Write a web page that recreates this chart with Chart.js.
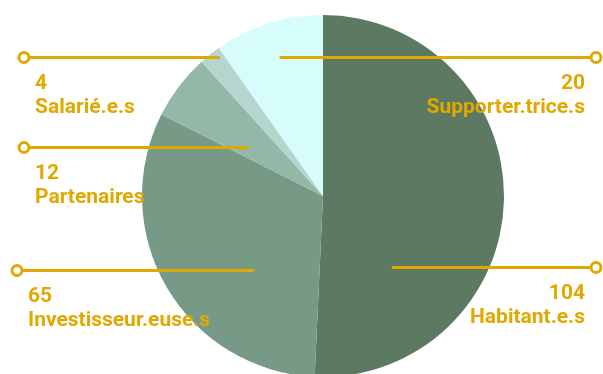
<!DOCTYPE html>
<html>
<head>
<meta charset="utf-8">
<script src="https://cdn.jsdelivr.net/npm/chart.js@4"></script>
<style>
  html, body { margin: 0; padding: 0; background: #fff; overflow: hidden; }
  #wrap { width: 603px; height: 380px; }
</style>
</head>
<body>
<div id="wrap"><canvas id="pieChart" width="603" height="380"></canvas></div>
<script>
// données
const categories = ['Habitant.e.s', 'Investisseur.euse.s', 'Partenaires', 'Salarié.e.s', 'Supporter.trice.s'];
const counts = [104, 65, 12, 4, 20];
const sliceColors = ['#5c7a61', '#779a86', '#93b8a7', '#b4d6ce', '#d6fcfc'];

// placement des étiquettes (relatif au centre et au rayon)
const labelLayout = [
  { side: 'right', dy: 71,   inner: 0.38 },  // Habitant
  { side: 'left',  dy: 74,   inner: -0.38 }, // Investisseur
  { side: 'left',  dy: -49,  inner: -0.41 }, // Partenaires
  { side: 'left',  dy: -139, inner: -0.57 }, // Salarié
  { side: 'right', dy: -139, inner: -0.24 }  // Supporter
];
const gold = '#e0a800';

const calloutPlugin = {
  id: 'callouts',
  afterDraw(chart) {
    const ctx = chart.ctx;
    const arc = chart.getDatasetMeta(0).data[0];
    const cx = arc.x, cy = arc.y, R = arc.outerRadius;
    ctx.save();
    labelLayout.forEach((l, i) => {
      const y = Math.round(cy + l.dy) + 0.5;
      const xIn = cx + l.inner * R;
      const xOut = l.side === 'left' ? (i === 1 ? 17 : 24) : 596;
      ctx.strokeStyle = gold;
      ctx.lineWidth = 3;
      ctx.beginPath();
      ctx.moveTo(xIn, y);
      ctx.lineTo(xOut, y);
      ctx.stroke();
      ctx.beginPath();
      ctx.arc(xOut, y, 5, 0, Math.PI * 2);
      ctx.fillStyle = '#fff';
      ctx.fill();
      ctx.stroke();

      ctx.fillStyle = gold;
      ctx.font = 'bold 21px Roboto';
      ctx.textBaseline = 'alphabetic';
      let tx;
      if (l.side === 'left') { ctx.textAlign = 'left'; tx = xOut + 11; }
      else { ctx.textAlign = 'right'; tx = 585; }
      ctx.fillText(String(counts[i]), tx, y + 31);
      ctx.fillText(categories[i], tx, y + 55);
    });
    ctx.restore();
  }
};

new Chart(document.getElementById('pieChart'), {
  type: 'pie',
  data: {
    labels: categories,
    datasets: [{ data: counts, backgroundColor: sliceColors, borderWidth: 0, hoverOffset: 0, offset: 0 }]
  },
  options: {
    responsive: false,
    animation: false,
    events: [],
    layout: { padding: { left: 142, right: 99, top: 15, bottom: 3 } },
    plugins: { legend: { display: false }, tooltip: { enabled: false } }
  },
  plugins: [calloutPlugin]
});
</script>
</body>
</html>
